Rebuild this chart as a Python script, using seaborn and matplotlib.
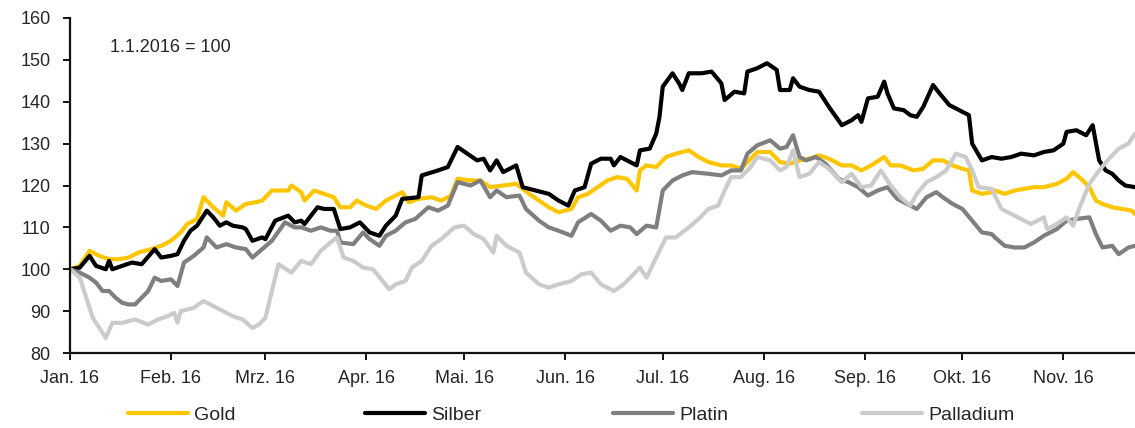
import matplotlib
matplotlib.use("Agg")
import matplotlib.pyplot as plt
import seaborn as sns
import pandas as pd

sns.set_style("ticks")
plt.rcParams["font.family"] = ["Liberation Sans", "DejaVu Sans"]

# Index values, 1.1.2016 = 100 (days since 1 Jan 2016)
gold_days = [0, 3, 6, 9, 12, 15, 18, 21, 25, 28, 31, 34, 36, 39, 41, 44, 47, 48, 51, 54, 57, 59, 62, 67, 68, 71,
             72, 75, 78, 81, 83, 86, 88, 91, 94, 97, 99, 102, 104, 107, 111, 114, 117, 119, 123, 126, 129, 133, 137, 141,
             144, 147, 150, 154, 156, 159, 162, 165, 168, 171, 174, 175, 177, 180, 183, 186, 190, 193, 196, 200, 203, 206, 209, 211,
             215, 218, 221, 224, 227, 230, 233, 237, 240, 243, 246, 250, 252, 255, 259, 262, 265, 268, 271, 274, 276, 277, 280, 283,
             284, 287, 290, 293, 296, 299, 303, 306, 308, 311, 313, 315, 317, 320, 323, 326, 327]
gold_vals = [100, 100.8, 104.4, 103.2, 102.4, 102.4, 102.8, 104, 104.8, 105.6, 106.8, 108.8, 110.8, 112, 117.2, 114.8, 112.8, 116, 114, 115.6, 116, 116.4, 118.8, 118.8, 120, 118.4,
             116.4, 118.8, 118, 117.2, 114.8, 114.8, 116.4, 115.2, 114.4, 116.4, 117.2, 118.4, 116, 116.8, 117.2, 116.4, 117.6, 121.6, 121.2, 121.2, 119.6, 120, 120.4, 118,
             116.4, 114.8, 113.6, 114.4, 117.2, 118, 119.6, 121.2, 122, 121.6, 118.8, 123.6, 124.8, 124.4, 126.8, 127.6, 128.4, 126.8, 125.6, 124.8, 124.8, 124, 126.4, 128,
             128, 125.6, 125.2, 126, 126.4, 127.2, 126.4, 124.8, 124.8, 123.6, 124.8, 126.8, 124.8, 124.8, 123.6, 124, 126, 126, 124.8, 124, 123.6, 118.8, 118, 118.4,
             118.8, 118, 118.8, 119.2, 119.6, 119.6, 120.4, 121.6, 123.2, 121.2, 119.6, 116.4, 115.6, 114.8, 114.4, 114, 113.2]

silber_days = [0, 3, 6, 8, 11, 12, 13, 16, 19, 22, 26, 28, 31, 33, 35, 37, 39, 42, 44, 46, 48, 50, 53, 54, 56, 59, 60, 63, 67, 69, 71,
               72, 76, 78, 81, 83, 86, 89, 92, 95, 97, 100, 102, 107, 108, 113, 116, 119, 122, 125, 127, 129, 131, 133, 137, 139, 141,
               143, 147, 150, 153, 155, 158, 160, 163, 166, 167, 169, 172, 174, 175, 178, 180, 181, 182, 185, 187, 188, 190, 194, 197, 200, 201, 204, 207, 208, 211,
               214, 217, 218, 221, 222, 224, 227, 230, 233, 237, 240, 242, 243, 245, 248, 250, 251, 253, 256, 258, 260, 262, 265, 267, 270, 273, 276, 277, 280, 283,
               286, 289, 292, 296, 299, 302, 305, 306, 309, 312, 314, 316, 318, 320, 322, 324, 327]
silber_vals = [100, 100.4, 103.2, 100.8, 100, 102, 100, 100.8, 101.6, 101.2, 104.8, 102.8, 103.2, 103.6, 106.8, 109.2, 110.4, 114, 112.4, 110.4, 111.2, 110.4, 110, 109.6, 106.8, 107.6, 107.2, 111.6, 112.8, 111.2, 111.6,
               110.8, 114.8, 114.4, 114.4, 109.6, 110, 111.2, 108.8, 108, 110.4, 112.8, 116.8, 117.2, 122.4, 123.6, 124.4, 129.2, 127.6, 126, 126.4, 123.6, 126, 123.2, 124.8, 119.6, 119.2,
               118.8, 118, 116.4, 115.2, 118.8, 119.6, 125.2, 126.4, 126.4, 124.8, 126.8, 125.6, 124.8, 128.4, 128.8, 132.4, 136.4, 143.6, 146.8, 144.4, 142.8, 146.8, 146.8, 147.2, 144.4, 140.4, 142.4, 142, 147.2, 148,
               149.2, 147.6, 142.8, 142.8, 145.6, 143.6, 142.8, 142.4, 138.8, 134.4, 135.6, 136.8, 135.2, 140.8, 141.2, 144.8, 142, 138.4, 138, 136.8, 136.4, 138.8, 144, 142, 139.2, 138, 136.8, 130, 126, 126.8,
               126.4, 126.8, 127.6, 127.2, 128, 128.4, 130, 132.8, 133.2, 132, 134.4, 126, 123.6, 122.8, 121.2, 120, 119.6]

platin_days = [0, 3, 6, 8, 10, 12, 14, 16, 18, 20, 24, 26, 28, 31, 33, 35, 38, 41, 42, 45, 48, 51, 54, 56, 59, 62, 66, 69, 71,
               74, 77, 80, 82, 83, 87, 90, 92, 95, 97, 100, 103, 106, 110, 113, 116, 119, 123, 126, 129, 131, 134, 138, 140,
               144, 147, 150, 154, 156, 160, 163, 166, 169, 172, 174, 177, 180, 182, 185, 188, 191, 196, 200, 203, 206, 208, 211,
               215, 218, 220, 222, 224, 226, 229, 232, 236, 239, 242, 245, 248, 251, 254, 257, 260, 263, 266, 268, 271, 274, 277, 280, 283,
               284, 287, 290, 293, 296, 299, 303, 306, 309, 313, 315, 317, 320, 322, 325, 327]
platin_vals = [100, 99.2, 98, 96.8, 94.8, 94.8, 93.2, 92, 91.6, 91.6, 94.8, 98, 97.2, 97.6, 96, 101.6, 103.2, 105.2, 107.6, 105.2, 106, 105.2, 104.8, 102.8, 104.8, 106.8, 111.2, 110, 110,
               109.2, 110, 109.2, 109.2, 106.4, 106, 108.8, 107.2, 105.6, 108, 109.2, 111.2, 112, 114.8, 114, 115.2, 120.8, 120, 121.2, 117.2, 118.8, 117.2, 117.6, 114.4,
               111.6, 110, 109.2, 108, 111.2, 113.2, 111.6, 109.2, 110.4, 110, 108.4, 110.4, 110, 118.8, 121.2, 122.4, 123.2, 122.8, 122.4, 123.6, 123.6, 127.6, 129.6,
               130.8, 128.8, 129.2, 132, 126.8, 126, 126.8, 125.2, 121.6, 120.8, 119.6, 117.6, 118.8, 119.6, 116.8, 115.6, 114.4, 117.2, 118.4, 117.2, 115.6, 114.4, 111.6, 108.8, 108.4,
               107.6, 105.6, 105.2, 105.2, 106.4, 108, 109.6, 111.6, 112, 112.4, 108.4, 105.2, 105.6, 103.6, 105.2, 105.6]

palladium_days = [0, 3, 5, 7, 9, 11, 13, 16, 20, 24, 27, 30, 32, 33, 34, 38, 41, 44, 47, 50, 53, 56, 58, 60, 62, 64, 68, 71,
                  74, 77, 80, 82, 84, 87, 90, 93, 96, 98, 100, 103, 105, 108, 111, 114, 118, 121, 124, 127, 130, 131, 134, 138, 140,
                  144, 147, 150, 154, 157, 160, 163, 167, 170, 173, 175, 177, 180, 183, 186, 190, 193, 196, 199, 201, 203, 206, 209, 211,
                  215, 218, 220, 222, 224, 227, 230, 233, 237, 240, 243, 246, 249, 252, 255, 258, 260, 263, 266, 269, 272, 275, 277, 279, 283,
                  286, 289, 292, 295, 299, 300, 303, 306, 308, 310, 313, 316, 319, 322, 325, 327]
palladium_vals = [100, 98, 93.2, 88.4, 86, 83.6, 87.2, 87.2, 88, 86.8, 88, 88.8, 89.6, 87.2, 90, 90.8, 92.4, 91.2, 90, 88.8, 88, 86, 86.8, 88.4, 94.8, 101.2, 99.2, 102,
                  101.2, 104.4, 106.4, 107.6, 102.8, 102, 100.4, 100, 97.2, 95.2, 96.4, 97.2, 100.4, 102, 105.6, 107.2, 110, 110.4, 108.4, 107.2, 104, 108, 105.6, 104, 99.2,
                  96.4, 95.6, 96.4, 97.2, 98.8, 99.2, 96.4, 94.8, 96.4, 98.8, 100.4, 98, 102.8, 107.6, 107.6, 110, 112, 114.4, 115.2, 118.8, 122, 122, 124.4, 126.8,
                  126, 123.6, 124.4, 128.4, 122, 122.8, 125.6, 124, 120.8, 122.8, 119.6, 120, 123.6, 120, 117.2, 115.2, 118, 120.8, 122, 123.6, 127.6, 126.8, 123.6, 119.6, 119.2,
                  114.4, 113.2, 112, 110.8, 112.4, 109.6, 110.8, 112.4, 110.4, 114.8, 120.4, 123.6, 126.4, 128.8, 130, 132.4]

series_names = ["Gold", "Silber", "Platin", "Palladium"]
series_colors = ["#FFC600", "#000000", "#7F7F7F", "#CBCBCB"]

month_ticks = ["2016-01-01", "2016-02-01", "2016-03-01", "2016-04-01", "2016-05-01", "2016-06-01",
               "2016-07-01", "2016-08-01", "2016-09-01", "2016-10-01", "2016-11-01"]
month_labels = ["Jan. 16", "Feb. 16", "Mrz. 16", "Apr. 16", "Mai. 16", "Jun. 16",
                "Jul. 16", "Aug. 16", "Sep. 16", "Okt. 16", "Nov. 16"]
y_ticks = [80, 90, 100, 110, 120, 130, 140, 150, 160]

start = pd.Timestamp("2016-01-01")
last_day = 327


def to_dates(days):
    return start + pd.to_timedelta(days, unit="D")


fig = plt.figure(figsize=(11.35, 4.28), dpi=100)
ax = fig.add_axes([70 / 1135, 75 / 428, 1 - 70 / 1135, 335 / 428])

all_days = [gold_days, silber_days, platin_days, palladium_days]
all_vals = [gold_vals, silber_vals, platin_vals, palladium_vals]
for days, vals, name, col in zip(all_days, all_vals, series_names, series_colors):
    sns.lineplot(x=to_dates(days), y=vals, ax=ax, color=col, linewidth=3.0,
                 estimator=None, label=name, legend=False)

ax.set_xlim(start, start + pd.Timedelta(days=last_day))
ax.set_ylim(80, 160)
ax.set_yticks(y_ticks)
ax.set_xticks(pd.to_datetime(month_ticks))
ax.set_xticklabels(month_labels)
ax.set_xlabel("")
ax.set_ylabel("")

for side in ["top", "right"]:
    ax.spines[side].set_visible(False)
for side in ["left", "bottom"]:
    ax.spines[side].set_linewidth(1.6)
    ax.spines[side].set_color("#111111")
ax.tick_params(axis="both", direction="out", length=5, width=1.4, color="#111111",
               labelsize=13, labelcolor="#262626")
ax.tick_params(axis="y", pad=9)
ax.tick_params(axis="x", pad=7)

ax.text(40 / 1065, (353 - 48) / 335, "1.1.2016 = 100", transform=ax.transAxes,
        fontsize=13, color="#262626", va="center", ha="left")

# legend entries spread evenly under the chart
leg_x = [128, 365, 613, 862]
for line, x in zip(ax.lines, leg_x):
    leg = fig.legend(handles=[line], labels=[line.get_label()], loc="center left",
                     bbox_to_anchor=(x / 1135, 13 / 428), frameon=False, fontsize=14,
                     handlelength=3.1, handletextpad=0.3, borderpad=0, borderaxespad=0)
    for t in leg.get_texts():
        t.set_color("#262626")

fig.savefig("out.png", dpi=100)
